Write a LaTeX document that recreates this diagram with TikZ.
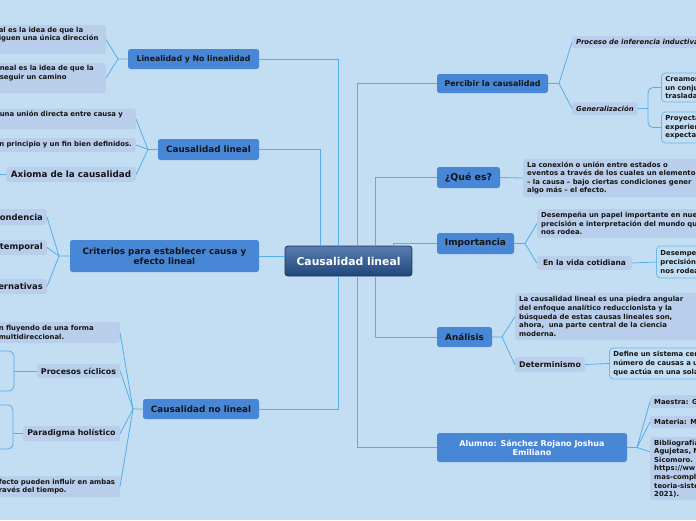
\documentclass[tikz,border=0pt]{standalone}
\usepackage{fontspec}
\setmainfont{DejaVu Sans}
\usetikzlibrary{calc}
\definecolor{bg}{HTML}{C3DEF2}
\definecolor{mainblue}{HTML}{4886D6}
\definecolor{subfill}{HTML}{B8CEEA}
\definecolor{conn}{HTML}{55ADEA}
\definecolor{outl}{HTML}{6DB8EE}
\definecolor{txt}{HTML}{151515}
\definecolor{ctop}{HTML}{5A7DAD}
\definecolor{cbot}{HTML}{1F467C}
\definecolor{cborder}{HTML}{17345E}
\newcommand\fsz[2]{\fontsize{#1}{#2}\selectfont}
\tikzset{
  topic/.style={fill=mainblue, rounded corners=2.5pt, text=txt, font=\bfseries\fsz{8.8}{10}, inner sep=0pt, align=center},
  subtopic/.style={fill=subfill, rounded corners=2.5pt, text=txt, font=\bfseries\fsz{7.9}{9}, inner sep=0pt},
  note/.style={fill=subfill, rounded corners=2.5pt, text=txt, font=\bfseries\fsz{6.9}{8.6}, inner xsep=4pt, inner ysep=2pt, align=left},
  outlined/.style={draw=outl, line width=0.8pt, fill=bg, rounded corners=4pt, text=txt, font=\bfseries\fsz{6.9}{8.6}, inner xsep=4pt, inner ysep=2pt, align=left},
  link/.style={draw=conn, line width=0.8pt},
  mainlink/.style={draw=conn, line width=1pt},
  italnote/.style={note, font=\bfseries\itshape\fsz{6.9}{8.6}},
  critchild/.style={subtopic, anchor=east, inner xsep=4pt, text width=52pt, align=right, font=\bfseries\fsz{8.4}{9.5}},
}
\begin{document}
\begin{tikzpicture}[x=1pt,y=-1pt]
\useasboundingbox (0,0) rectangle (696,520);
\fill[bg] (0,0) rectangle (696,520);

% central
\node[draw=cborder, line width=0.8pt, rounded corners=3pt, top color=ctop, bottom color=cbot,
      minimum width=127pt, minimum height=30pt, inner sep=0pt, text=white,
      font=\bfseries\fsz{10.8}{12}] (c) at (348.5,261) {Causalidad lineal};

% main topics
\node[topic, minimum width=131pt, minimum height=20pt, font=\bfseries\fsz{7.8}{9}] (L1) at (193.5,59) {Linealidad y No linealidad};
\node[topic, minimum width=101pt, minimum height=21pt] (L2) at (208.5,149.5) {Causalidad lineal};
\node[topic, minimum width=189pt, minimum height=32pt] (L3) at (164.5,256) {Criterios para establecer causa y\\efecto lineal};
\node[topic, minimum width=116pt, minimum height=20pt] (L4) at (201,409) {Causalidad no lineal};
\node[topic, minimum width=111pt, minimum height=19pt, font=\bfseries\fsz{7.9}{9}] (R1) at (492.5,83.5) {Percibir la causalidad};
\node[topic, minimum width=63pt, minimum height=21pt, font=\bfseries\fsz{9.4}{11}] (R2) at (468.5,177.5) {¿Qué es?};
\node[topic, minimum width=77pt, minimum height=21pt, font=\bfseries\fsz{9}{10}] (R3) at (475.5,243.5) {Importancia};
\node[topic, minimum width=55pt, minimum height=20pt] (R4) at (464.5,337) {Análisis};
\node[topic, minimum width=190pt, minimum height=29pt, text=white, font=\bfseries\fsz{8}{9.2}] (R5) at (532,447.5) {Alumno: Sánchez Rojano Joshua\\Emiliano};

% left children
\node[note, anchor=east, text width=103pt, minimum height=29pt] (a1) at (106,39.5) {al es la idea de que la\\iguen una única dirección\\\strut};
\node[note, anchor=east, text width=102pt, minimum height=30pt] (a2) at (106,78) {neal es la idea de que la\\seguir un camino\\\strut};
\node[note, anchor=east, text width=132pt, minimum height=20pt] (b1) at (136,119) {una unión directa entre causa y\\\strut};
\node[note, anchor=east, text width=150pt, align=right, minimum height=14pt] (b2) at (136,145) {n principio y un fin bien definidos.};
\node[subtopic, minimum width=130pt, minimum height=15pt, font=\bfseries\fsz{8.8}{10}] (b3) at (71,174.5) {Axioma de la causalidad};
\coordinate (b3x) at (-10,174.5);

\node[critchild, minimum height=16pt] (c1) at (47,217) {ondencia};
\node[critchild, minimum height=15pt] (c2) at (47,247.5) {temporal};
\node[critchild, minimum height=15pt] (c3) at (47,286.5) {ternativas};

\node[note, anchor=east, text width=117pt, minimum height=21pt] (d1) at (120,332.5) {n fluyendo de una forma\\multidireccional.};
\node[subtopic, minimum width=83pt, minimum height=14pt] (d2) at (78.5,371) {Procesos cíclicos};
\node[subtopic, minimum width=97pt, minimum height=15pt] (d3) at (71.5,433.5) {Paradigma holístico};
\node[note, anchor=east, text width=117pt, minimum height=21pt] (d4) at (120,486.5) {fecto pueden influir en ambas\\ravés del tiempo.};

% right children
\node[italnote, anchor=west, minimum height=12pt, inner ysep=1pt] (e1) at (572,42) {Proceso de inferencia inductiva};
\node[italnote, anchor=west, minimum height=13pt, inner ysep=1pt] (e2) at (572,108.5) {Generalización};
\node[outlined, anchor=west, text width=80pt, minimum height=29pt] (f1) at (661,87.5) {Creamos\\un conju\\traslada};
\node[outlined, anchor=west, text width=80pt, minimum height=31pt] (f2) at (661,127.5) {Proyecta\\experien\\expectat};

\node[note, anchor=west, text width=200pt, minimum height=38pt] (g1) at (523,178) {La conexión o unión entre estados o\\eventos a través de los cuales un elemento\\– la causa – bajo ciertas condiciones gener\\algo más – el efecto.};

\node[note, anchor=west, text width=200pt, minimum height=29pt] (h1) at (537,223.5) {Desempeña un papel importante en nue\\precisión e interpretación del mundo qu\\nos rodea.};
\node[subtopic, minimum width=95pt, minimum height=14pt, font=\bfseries\fsz{7.5}{9}] (h2) at (584.5,263) {En la vida cotidiana};
\node[outlined, anchor=west, text width=80pt, minimum height=32pt] (h3) at (656,262) {Desempe\\precisión\\nos rodea};

\node[note, anchor=west, text width=190pt, minimum height=47pt] (i1) at (515,316.5) {La causalidad lineal es una piedra angular\\del enfoque analítico reduccionista y la\\búsqueda de estas causas lineales son,\\ahora,\ \ una parte central de la ciencia\\moderna.};
\node[subtopic, minimum width=70pt, minimum height=15pt, font=\bfseries\fsz{7.8}{9}] (i2) at (550,364.5) {Determinismo};
\node[outlined, anchor=west, text width=100pt, minimum height=31pt] (i3) at (609,363.5) {Define un sistema cer\\número de causas a u\\que actúa en una sola};

\node[note, anchor=west, text width=80pt, minimum height=13pt] (k1) at (650,401.5) {Maestra: G};
\node[note, anchor=west, text width=80pt, minimum height=12pt] (k2) at (650,422) {Materia: M};
\node[note, anchor=west, text width=80pt, minimum height=63pt] (k3) at (650,468.5) {Bibliografía\\Agujetas, N\\Sicomoro. \\https://ww\\mas-compl\\teoria-siste\\2021).};

% junctions
\coordinate (jL1) at (118,59);
\coordinate (jL2) at (148,149.5);
\coordinate (jL3) at (59,256);
\coordinate (jL4) at (133,409);
\coordinate (jR1) at (559,83.5);
\coordinate (jR3) at (525,243.5);
\coordinate (jR4) at (502,337);
\coordinate (jR5) at (637,447.5);
\coordinate (jE2) at (648,108.5);
\coordinate (jD2) at (14,371);
\coordinate (d2t) at (-5,351);
\coordinate (d2b) at (-5,391);
\coordinate (jD3) at (13,433.5);
\coordinate (d3t) at (-5,405);
\coordinate (d3b) at (-5,449);
\coordinate (k3in) at ($(k3.north west)+(0,15)$);

% central connectors
\draw[mainlink] (L1.east) -| (338,0 |- c.north);
\draw[mainlink] (L2.east) -| (320,0 |- c.north);
\draw[mainlink] (L3.east) -- (L3.east -| c.west);
\draw[mainlink] (L4.east) -| (338,0 |- c.south);
\draw[mainlink] (R1.west) -| (357,0 |- c.north);
\draw[mainlink] (R2.west) -| (375,0 |- c.north);
\draw[mainlink] (R3.west) -| (393,0 |- c.north);
\draw[mainlink] (R4.west) -| (375,0 |- c.south);
\draw[mainlink] (R5.west) -| (357,0 |- c.south);

% left branches
\draw[link] (L1.west) -- (jL1) -- (a1.east);
\draw[link] (jL1) -- (a2.east);
\draw[link] (L2.west) -- (jL2) -- (b1.east);
\draw[link] (jL2) -- (b2.east);
\draw[link] (jL2) -- (b3.east);
\draw[link] (b3.west) -- (b3x);
\draw[link] (L3.west) -- (jL3) -- (c1.east);
\draw[link] (jL3) -- (c2.east);
\draw[link] (jL3) -- (c3.east);
\draw[link] (L4.west) -- (jL4) -- (d1.east);
\draw[link] (jL4) -- (d2.east);
\draw[link] (jL4) -- (d3.east);
\draw[link] (jL4) -- (d4.east);
\draw[link] (d2.west) -- (jD2);
\draw[link, rounded corners=5pt] (d2t) -| (jD2) |- (d2b);
\draw[link] (d3.west) -- (jD3);
\draw[link, rounded corners=5pt] (d3t) -| (jD3) |- (d3b);

% right branches
\draw[link] (R1.east) -- (jR1) -- (e1.west);
\draw[link] (jR1) -- (e2.west);
\draw[link] (e2.east) -- (jE2);
\draw[link, rounded corners=5pt] (f1.west) -| (jE2) |- (f2.west);
\draw[link] (R2.east) -- (g1.west);
\draw[link] (R3.east) -- (jR3) -- (h1.west);
\draw[link] (jR3) -- (h2.west);
\draw[link] (h2.east) -- (h3.west);
\draw[link] (R4.east) -- (jR4) -- (i1.west);
\draw[link] (jR4) -- (i2.west);
\draw[link] (i2.east) -- (i3.west);
\draw[link] (R5.east) -- (jR5) -- (k1.west);
\draw[link] (jR5) -- (k2.west);
\draw[link] (jR5) -- (k3in);
\end{tikzpicture}
\end{document}
